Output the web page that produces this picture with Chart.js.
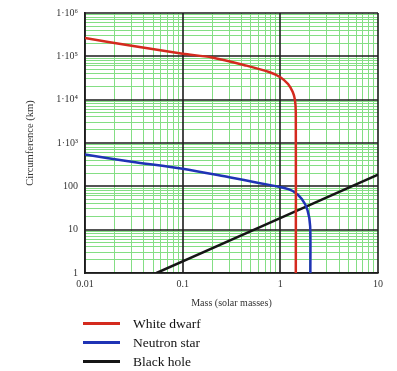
<!DOCTYPE html>
<html>
<head>
<meta charset="utf-8">
<script src="https://cdn.jsdelivr.net/npm/chart.js@4.4.1/dist/chart.umd.min.js"></script>
<style>
  body { margin: 0; background: #fff; }
  #wrap { position: relative; width: 397px; height: 371px; }
  #legend {
    position: absolute; left: 83px; top: 314px;
    font-family: "Liberation Serif", "DejaVu Serif", serif;
    font-size: 13.5px; color: #111;
  }
  .item { display: flex; align-items: center; height: 19px; }
  .swatch { width: 37px; height: 3px; margin-right: 13px; }
</style>
</head>
<body>
<div id="wrap">
  <canvas id="chart" width="397" height="371"></canvas>
  <div id="legend"></div>
</div>
<script>
// axis ticks
const xTickValues = [0.01, 0.1, 1, 10];
const xTickLabels = ["0.01", "0.1", "1", "10"];
const yTickValues = [1, 10, 100, 1e3, 1e4, 1e5, 1e6];
const yTickLabels = ["1", "10", "100", "1\u00b710\u00b3", "1\u00b710\u2074", "1\u00b710\u2075", "1\u00b710\u2076"];
const minorSteps = [2, 3, 4, 5, 6, 7, 8, 9];

// series
const whiteDwarfMass = [0.01, 0.03, 0.1, 0.2, 0.45, 0.78, 1.0, 1.2, 1.34, 1.41, 1.44, 1.44];
const whiteDwarfCirc = [2.65e5, 1.75e5, 1.15e5, 9.4e4, 6.1e4, 4.3e4, 3.3e4, 2.3e4, 1.5e4, 1.0e4, 5e3, 1];

const neutronMass = [0.01, 0.03, 0.1, 0.3, 0.6, 1.0, 1.34, 1.66, 1.9, 2.02, 2.03];
const neutronCirc = [540, 370, 255, 162, 120, 96, 78, 51, 28, 12, 1];

const blackHoleMass = [0.054, 10];
const blackHoleCirc = [1, 185];

const seriesNames = ["White dwarf", "Neutron star", "Black hole"];
const seriesColors = ["#d42a1e", "#1f33b5", "#151515"];

const gridGreen = "#84de84";
const gridDark = "#1c1c1c";

function toPoints(xs, ys) {
  return xs.map((x, i) => ({ x: x, y: ys[i] }));
}

function withMinor(majors) {
  const out = [];
  majors.forEach((m, i) => {
    out.push(m);
    if (i < majors.length - 1) minorSteps.forEach(s => out.push(m * s));
  });
  return out;
}

function isDecade(v) {
  const l = Math.log10(v);
  return Math.abs(l - Math.round(l)) < 1e-6;
}

const serif = "'Liberation Serif', 'DejaVu Serif', serif";

// green minor grid only; decade lines are drawn on top by the plugin below
function gridOpts() {
  return {
    drawTicks: false,
    color: ctx => (ctx.tick && isDecade(ctx.tick.value)) ? "rgba(0,0,0,0)" : gridGreen,
    lineWidth: 1
  };
}

// dark decade lines over the green grid, under the curves
const decadeLines = {
  id: "decadeLines",
  beforeDatasetsDraw(chart) {
    const { ctx, chartArea: a, scales } = chart;
    ctx.save();
    ctx.strokeStyle = gridDark;
    ctx.lineWidth = 1.6;
    ctx.beginPath();
    xTickValues.forEach(v => {
      const px = Math.round(scales.x.getPixelForValue(v));
      ctx.moveTo(px, a.top);
      ctx.lineTo(px, a.bottom);
    });
    yTickValues.forEach(v => {
      const py = Math.round(scales.y.getPixelForValue(v));
      ctx.moveTo(a.left, py);
      ctx.lineTo(a.right, py);
    });
    ctx.stroke();
    ctx.restore();
  }
};

const ctx = document.getElementById("chart").getContext("2d");

const chart = new Chart(ctx, {
  type: "line",
  data: {
    datasets: [
      { label: seriesNames[0], data: toPoints(whiteDwarfMass, whiteDwarfCirc) },
      { label: seriesNames[1], data: toPoints(neutronMass, neutronCirc) },
      { label: seriesNames[2], data: toPoints(blackHoleMass, blackHoleCirc) }
    ].map((d, i) => Object.assign(d, {
      borderColor: seriesColors[i],
      backgroundColor: seriesColors[i],
      borderWidth: 2.5,
      pointRadius: 0,
      tension: 0.3,
      fill: false
    }))
  },
  plugins: [decadeLines],
  options: {
    responsive: false,
    animation: false,
    layout: { padding: { left: 20, right: 19, top: 10, bottom: 58 } },
    plugins: { legend: { display: false }, tooltip: { enabled: false } },
    scales: {
      x: {
        type: "logarithmic",
        min: 0.01,
        max: 10,
        afterBuildTicks: s => { s.ticks = withMinor(xTickValues).map(v => ({ value: v })); },
        afterFit: s => { s.height = 40; },
        ticks: {
          autoSkip: false,
          maxRotation: 0,
          padding: 5,
          color: "#333",
          font: { family: serif, size: 10 },
          callback: v => {
            const i = xTickValues.findIndex(t => Math.abs(t - v) < t * 1e-6);
            return i >= 0 ? xTickLabels[i] : "";
          }
        },
        grid: gridOpts(),
        border: { display: true, color: gridDark, width: 1.6 },
        title: {
          display: true,
          text: "Mass (solar masses)",
          color: "#333",
          font: { family: serif, size: 10 },
          padding: { top: 2, bottom: 4 }
        }
      },
      y: {
        type: "logarithmic",
        min: 1,
        max: 1e6,
        afterBuildTicks: s => { s.ticks = withMinor(yTickValues).map(v => ({ value: v })); },
        afterFit: s => { s.width = 65; },
        ticks: {
          autoSkip: false,
          padding: 7,
          color: "#333",
          font: { family: serif, size: 10 },
          callback: v => {
            const i = yTickValues.findIndex(t => Math.abs(t - v) < t * 1e-6);
            return i >= 0 ? yTickLabels[i] : "";
          }
        },
        grid: gridOpts(),
        border: { display: true, color: gridDark, width: 1.6 },
        title: {
          display: true,
          text: "Circumference (km)",
          color: "#333",
          font: { family: serif, size: 10.5 },
          padding: { top: 4, bottom: 4 }
        }
      }
    }
  }
});

// legend as html, built from the datasets
const legend = document.getElementById("legend");
chart.data.datasets.forEach(d => {
  const row = document.createElement("div");
  row.className = "item";
  const sw = document.createElement("span");
  sw.className = "swatch";
  sw.style.background = d.borderColor;
  const txt = document.createElement("span");
  txt.textContent = d.label;
  row.appendChild(sw);
  row.appendChild(txt);
  legend.appendChild(row);
});
</script>
</body>
</html>
